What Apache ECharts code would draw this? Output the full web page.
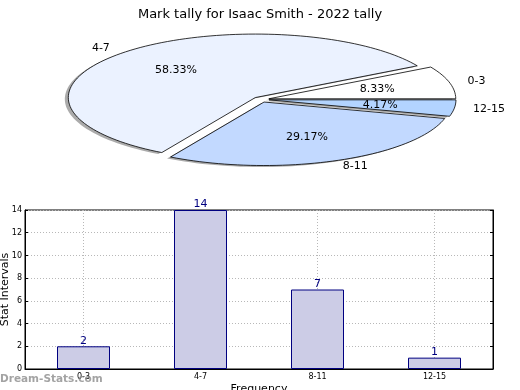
<!DOCTYPE html>
<html>
<head>
<meta charset="utf-8">
<script src="https://cdn.jsdelivr.net/npm/echarts@6/dist/echarts.min.js"></script>
<style>
html,body{margin:0;padding:0;background:#fff;}
#chart{width:520px;height:390px;}
</style>
</head>
<body>
<div id="chart"></div>
<script>
// ---- data ----
const titleText = 'Mark tally for Isaac Smith - 2022 tally';
const pieLabels = ['0-3', '4-7', '8-11', '12-15'];
const pieValues = [2, 14, 7, 1];
const barCategories = ['0-3', '4-7', '8-11', '12-15'];
const barValues = [2, 14, 7, 1];
const yAxisName = 'Stat Intervals';
const xAxisName = 'Frequency';
const watermark = 'Dream-Stats.com';

// ---- styles ----
const pieColors = ['#ffffff', '#ebf2ff', '#c2d9ff', '#b3d4ff'];
const FONT = 'DejaVu Sans';

const pieTotal = pieValues.reduce((a, b) => a + b, 0);
const PIE = { cx: 261, cy: 99.5, rx: 187, ry: 63.5, explode: 0.043 };

function sliceGeom(i) {
  let start = 0;
  for (let j = 0; j < i; j++) start += pieValues[j];
  const a0 = start / pieTotal * Math.PI * 2;
  const a1 = (start + pieValues[i]) / pieTotal * Math.PI * 2;
  const mid = (a0 + a1) / 2;
  const vx = PIE.cx + PIE.explode * PIE.rx * Math.cos(mid);
  const vy = PIE.cy - PIE.explode * PIE.ry * Math.sin(mid);
  const pts = [[vx, vy]];
  const n = Math.max(4, Math.ceil((a1 - a0) / (Math.PI * 2) * 180));
  for (let k = 0; k <= n; k++) {
    const a = a0 + (a1 - a0) * k / n;
    pts.push([vx + PIE.rx * Math.cos(a), vy - PIE.ry * Math.sin(a)]);
  }
  return { pts, mid, vx, vy, a0, a1 };
}

function renderShadow(params, api) {
  const g = sliceGeom(params.dataIndex);
  const pts = g.pts.map(p => [p[0] - 3.5, p[1] + 1.5]);
  return {
    type: 'polygon',
    shape: { points: pts },
    style: { fill: '#666', opacity: 0.55, stroke: null }
  };
}

function renderSlice(params, api) {
  const i = params.dataIndex;
  const g = sliceGeom(i);
  const c = Math.cos(g.mid), s = Math.sin(g.mid);
  const pct = (api.value(0) / pieTotal * 100).toFixed(2) + '%';
  return {
    type: 'group',
    children: [
      {
        type: 'polygon',
        shape: { points: g.pts },
        style: { fill: pieColors[i], stroke: '#000', lineWidth: 0.8 }
      },
      {
        type: 'text',
        x: g.vx + 0.6 * PIE.rx * c,
        y: g.vy - 0.6 * PIE.ry * s,
        style: { text: pct, fontSize: 11, fontFamily: FONT, fill: '#000', align: 'center', verticalAlign: 'middle' }
      },
      {
        type: 'text',
        x: g.vx + 1.1 * PIE.rx * c,
        y: g.vy - 1.1 * PIE.ry * s,
        style: { text: pieLabels[i], fontSize: 11, fontFamily: FONT, fill: '#000', align: c >= 0 ? 'left' : 'right', verticalAlign: 'middle' }
      }
    ]
  };
}

const chart = echarts.init(document.getElementById('chart'), null, { renderer: 'canvas' });

const gridLine = { show: true, lineStyle: { color: '#b8b8b8', type: [1, 2], width: 1 } };

chart.setOption({
  animation: false,
  backgroundColor: '#fff',
  textStyle: { fontFamily: FONT },
  title: {
    text: titleText, left: 'center', top: 3,
    textStyle: { fontSize: 13, fontWeight: 'normal', color: '#000', fontFamily: FONT }
  },
  graphic: [{
    type: 'text', left: 0, top: 374, z: 100,
    style: { text: watermark, fontSize: 10.5, fontWeight: 'bold', fontFamily: FONT, fill: 'rgba(140,140,140,0.8)' }
  }],
  grid: { left: 25, right: 27, top: 210, bottom: 21, show: true, borderColor: '#000', borderWidth: 1, backgroundColor: 'transparent', containLabel: false, outerBoundsMode: 'none' },
  xAxis: {
    type: 'category', data: barCategories,
    name: xAxisName, nameLocation: 'middle', nameGap: 15, nameMoveOverlap: false,
    nameTextStyle: { fontSize: 11, color: '#000', fontFamily: FONT },
    axisLine: { lineStyle: { color: '#000' } },
    axisTick: { show: true, inside: true, alignWithLabel: true, length: 3, lineStyle: { color: '#000' } },
    axisLabel: { fontSize: 8, color: '#000', margin: 4, fontFamily: FONT },
    splitLine: Object.assign({ alignWithLabel: true }, gridLine)
  },
  yAxis: [{
    type: 'value', min: 0, max: 14, interval: 2,
    name: yAxisName, nameLocation: 'middle', nameGap: 14, nameMoveOverlap: false,
    nameTextStyle: { fontSize: 11, color: '#000', fontFamily: FONT },
    axisLine: { show: true, lineStyle: { color: '#000' } },
    axisTick: { show: true, inside: true, length: 3, lineStyle: { color: '#000' } },
    axisLabel: { fontSize: 8, color: '#000', margin: 3, fontFamily: FONT },
    splitLine: gridLine
  }, {
    type: 'value', min: 0, max: 14, interval: 2, position: 'right',
    axisLine: { show: true, lineStyle: { color: '#000' } },
    axisTick: { show: true, inside: true, length: 3, lineStyle: { color: '#000' } },
    axisLabel: { show: false },
    splitLine: { show: false }
  }],
  series: [
    {
      type: 'custom', coordinateSystem: 'none', renderItem: renderShadow,
      data: pieValues.map(v => [v]), z: 1, silent: true
    },
    {
      type: 'custom', coordinateSystem: 'none', renderItem: renderSlice,
      data: pieValues.map(v => [v]), z: 2, silent: true
    },
    {
      type: 'bar', data: barValues, barWidth: 53, yAxisIndex: 0,
      itemStyle: { color: '#ccccE6', borderColor: '#000080', borderWidth: 1 },
      label: { show: true, position: 'top', distance: 0, fontSize: 11, color: '#000080', fontFamily: FONT }
    }
  ]
});
</script>
</body>
</html>
